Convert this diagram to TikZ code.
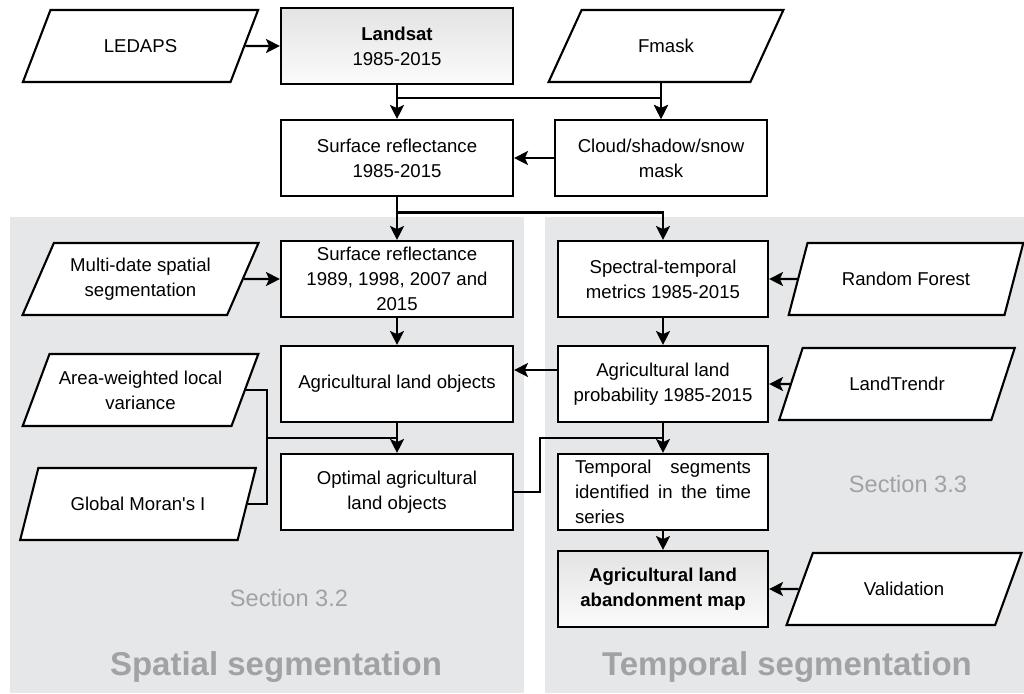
\documentclass[tikz,border=0pt]{standalone}
\usepackage{fontspec}
\setmainfont{Liberation Sans}
\usetikzlibrary{positioning}
\usetikzlibrary{shapes.geometric}
\usetikzlibrary{arrows.meta}
\usetikzlibrary{calc}
\definecolor{panelgray}{RGB}{230,231,233}
\definecolor{labelgray}{RGB}{160,162,165}
\tikzset{node distance=56pt, % Distance between node centres, changed per node below
every node/.style={font=\fontsize{9.3}{12.5}\selectfont},
process/.style={ % Rectangular processing steps
draw,
line width=1.05pt,
fill=white,
minimum width=116pt,
minimum height=38pt,
align=center,
inner sep=2pt},
narrow/.style={process, minimum width=105pt}, % Boxes of the right column
product/.style={top color=gray!22, bottom color=gray!3}, % Shaded data products
input/.style={ % Parallelogram inputs
draw,
line width=1.05pt,
fill=white,
trapezium,
trapezium left angle=63.4,
trapezium right angle=116.6,
trapezium stretches=true,
minimum width=118pt,
minimum height=36pt,
align=center},
every edge/.style={ % Sets the properties for each arrow
draw,
-{Stealth[length=7pt,width=7pt,inset=1.6pt]},
line width=1.05pt},
link/.style={draw, line width=1.05pt}, % Plain joining lines
flow/.style={link, -{Stealth[length=7pt,width=7pt,inset=1.6pt]}},
panel/.style={fill=panelgray},
section/.style={text=labelgray, font=\fontsize{11.8}{14}\selectfont},
title/.style={text=labelgray, font=\bfseries\fontsize{16.5}{20}\selectfont}}

\begin{document}
\begin{tikzpicture}
	\useasboundingbox (0,0) rectangle (512pt,-346.5pt);
	% background panels
	\fill[panel] (5pt,-108.5pt) rectangle (262pt,-346.5pt);
	\fill[panel] (272.5pt,-108.5pt) rectangle (512pt,-346.5pt);

	\node[process, product] (landsat) at (198.5pt,-23pt) {\textbf{Landsat}\\1985-2015};
	\node[input, node distance=128.25pt, left of=landsat] (ledaps) {LEDAPS};
	\node[input, node distance=134.5pt, right of=landsat] (fmask) {Fmask};

	\node[process, node distance=56pt, below of=landsat] (sr1) {Surface reflectance\\1985-2015};
	\node[narrow, minimum width=106pt, node distance=132pt, right of=sr1] (cloud) {Cloud/shadow/snow\\mask};

	\node[process, node distance=60.5pt, below of=sr1] (sr2) {Surface reflectance\\1989, 1998, 2007 and\\2015};
	\node[input, node distance=128.25pt, left of=sr2] (multidate) {Multi-date spatial\\segmentation};
	\node[narrow, node distance=133pt, right of=sr2] (st) {Spectral-temporal\\metrics 1985-2015};
	\node[input, node distance=121.5pt, right of=st] (rf) {Random Forest};

	\node[process, node distance=52.5pt, below of=sr2] (alo) {Agricultural land objects};
	\node[narrow, node distance=133pt, right of=alo] (alp) {Agricultural land\\probability 1985-2015};
	\node[input, node distance=117pt, right of=alp] (landtrendr) {LandTrendr};
	\node[input, node distance=128.25pt, left of=alo, yshift=-3pt] (areaw) {Area-weighted local\\variance};

	\node[process, node distance=54pt, below of=alo] (optimal) {Optimal agricultural\\land objects};
	\node[input, node distance=129.5pt, left of=optimal, yshift=-6pt] (moran) {Global Moran\textquotesingle s I};
	\node[narrow, node distance=133pt, right of=optimal, align=left] (ts) {\makebox[88pt][s]{Temporal segments}\\\makebox[88pt][s]{identified in the time}\\series};

	\node[narrow, product, node distance=48.5pt, below of=ts, font=\bfseries\fontsize{9.3}{12.5}\selectfont] (am) {Agricultural land\\abandonment map};
	\node[input, node distance=120.5pt, right of=am] (validation) {Validation};

	\node[section] (sec32) at (144.5pt,-299pt) {Section 3.2};
	\node[section] (sec33) at (454pt,-242pt) {Section 3.3};
	\node[title] (spatial) at (138pt,-333.75pt) {Spatial segmentation};
	\node[title] (temporal) at (393.5pt,-333.75pt) {Temporal segmentation};

	% junctions
	\coordinate (j1) at ($(landsat.south)!0.38!(sr1.north)$);
	\coordinate (j2) at ($(sr1.south)!0.36!(sr2.north)$);
	\coordinate (jn) at ($(alo.south)!0.5!(optimal.north)$);
	\coordinate (jw) at ($(jn)+(-65pt,0)$);
	\coordinate (jt) at ($(alp.south)!0.5!(ts.north)$);

	\draw (ledaps) edge (landsat);
	\draw (landsat) edge (sr1);
	\draw[flow] (j1) -| (cloud);
	\draw[flow] (fmask.south -| cloud) -- (cloud);
	\draw (cloud) edge (sr1);

	\draw (sr1) edge (sr2);
	\draw[flow] (j2) -| (st);
	\draw (multidate) edge (sr2);
	\draw (rf) edge (st);

	\draw (sr2) edge (alo);
	\draw (st) edge (alp);
	\draw ([yshift=7pt]alp.west) edge ([yshift=7pt]alo.east);
	\draw (landtrendr) edge (alp);

	\draw (alo) edge (optimal);
	\draw[link] (areaw.east) -| (jw) -- (jn);
	\draw[link] (moran.east) -| (jw);
	\draw (alp) edge (ts);
	\draw[link] (optimal.east) -- ++(13pt,0) |- (jt);

	\draw (ts) edge (am);
	\draw (validation) edge (am);
\end{tikzpicture}
\end{document}
